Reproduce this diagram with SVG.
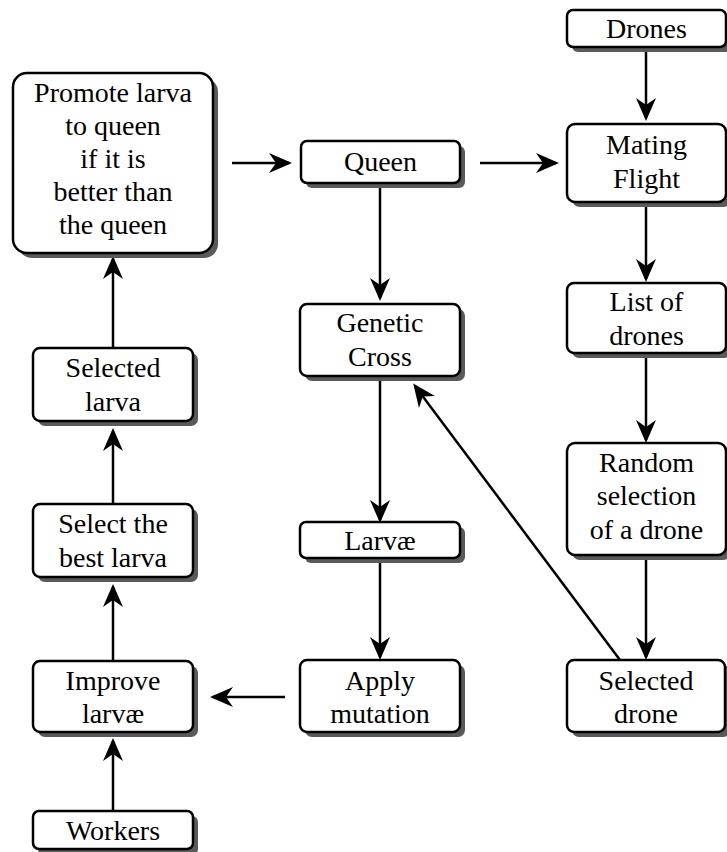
<svg xmlns="http://www.w3.org/2000/svg" width="727" height="852" viewBox="0 0 727 852">
<style>
.sh{fill:#5a5a5a;stroke:none}
.bx{fill:#fff;stroke:#000;stroke-width:2.5}
.t text{font-size:28px;fill:#000;text-anchor:middle}
.c{stroke:#000;stroke-width:2.5;fill:none;marker-end:url(#ah)}
</style>
<defs>
<marker id="ah" markerUnits="userSpaceOnUse" viewBox="-25 -12 27 24" markerWidth="27" markerHeight="24" refX="-3" refY="0" orient="auto">
<path d="M0,0 L-23,-10 L-16,0 L-23,10 Z" fill="#000"/>
</marker>
</defs>
<rect width="727" height="852" fill="#fff"/>
<g id="connectors">
<line class="c" x1="113" y1="348" x2="113" y2="259"/>
<line class="c" x1="113" y1="504" x2="113" y2="431"/>
<line class="c" x1="113" y1="661" x2="113" y2="587"/>
<line class="c" x1="113" y1="811" x2="113" y2="741"/>
<line class="c" x1="232" y1="163" x2="289" y2="163"/>
<line class="c" x1="480" y1="163" x2="556" y2="163"/>
<line class="c" x1="646" y1="47" x2="646" y2="118"/>
<line class="c" x1="380" y1="183" x2="380" y2="298"/>
<line class="c" x1="380" y1="376" x2="380" y2="520"/>
<line class="c" x1="380" y1="558" x2="380" y2="657"/>
<line class="c" x1="285" y1="697" x2="213" y2="697"/>
<line class="c" x1="646" y1="202" x2="646" y2="279"/>
<line class="c" x1="646" y1="353" x2="646" y2="440"/>
<line class="c" x1="646" y1="555" x2="646" y2="657"/>
<line class="c" x1="620" y1="660" x2="415" y2="386"/>
</g>
<g class="t" font-family="'Liberation Serif', 'Times New Roman', 'DejaVu Serif', serif">
<g id="promote">
<rect class="sh" x="18" y="78" width="200" height="180" rx="14"/>
<rect class="bx" x="13" y="73" width="200" height="180" rx="14"/>
<text x="113" y="102">Promote larva</text>
<text x="113" y="135">to queen</text>
<text x="113" y="168">if it is</text>
<text x="113" y="201">better than</text>
<text x="113" y="234">the queen</text>
</g>
<g id="queen">
<rect class="sh" x="306" y="146" width="159" height="42" rx="6"/>
<rect class="bx" x="301" y="141" width="159" height="42" rx="6"/>
<text x="380.5" y="171">Queen</text>
</g>
<g id="drones">
<rect class="sh" x="572" y="15" width="159" height="37" rx="6"/>
<rect class="bx" x="567" y="10" width="159" height="37" rx="6"/>
<text x="646.5" y="38">Drones</text>
</g>
<g id="mating">
<rect class="sh" x="572" y="129" width="159" height="78" rx="8"/>
<rect class="bx" x="567" y="124" width="159" height="78" rx="8"/>
<text x="646.5" y="154">Mating</text>
<text x="646.5" y="188">Flight</text>
</g>
<g id="genetic">
<rect class="sh" x="305" y="309" width="160" height="72" rx="7"/>
<rect class="bx" x="300" y="304" width="160" height="72" rx="7"/>
<text x="380" y="332">Genetic</text>
<text x="380" y="366">Cross</text>
</g>
<g id="list">
<rect class="sh" x="572" y="288" width="159" height="70" rx="7"/>
<rect class="bx" x="567" y="283" width="159" height="70" rx="7"/>
<text x="646.5" y="311">List of</text>
<text x="646.5" y="345">drones</text>
</g>
<g id="selected-larva">
<rect class="sh" x="38" y="353" width="160" height="73" rx="7"/>
<rect class="bx" x="33" y="348" width="160" height="73" rx="7"/>
<text x="113" y="377">Selected</text>
<text x="113" y="411">larva</text>
</g>
<g id="random">
<rect class="sh" x="572" y="448" width="159" height="112" rx="8"/>
<rect class="bx" x="567" y="443" width="159" height="112" rx="8"/>
<text x="646.5" y="472">Random</text>
<text x="646.5" y="505">selection</text>
<text x="646.5" y="539">of a drone</text>
</g>
<g id="select-best">
<rect class="sh" x="38" y="509" width="160" height="73" rx="7"/>
<rect class="bx" x="33" y="504" width="160" height="73" rx="7"/>
<text x="113" y="533">Select the</text>
<text x="113" y="567">best larva</text>
</g>
<g id="larvae">
<rect class="sh" x="305" y="527" width="160" height="36" rx="6"/>
<rect class="bx" x="300" y="522" width="160" height="36" rx="6"/>
<text x="380" y="550">Larvæ</text>
</g>
<g id="improve">
<rect class="sh" x="38" y="666" width="160" height="71" rx="7"/>
<rect class="bx" x="33" y="661" width="160" height="71" rx="7"/>
<text x="113" y="690">Improve</text>
<text x="113" y="723">larvæ</text>
</g>
<g id="apply">
<rect class="sh" x="305" y="665" width="160" height="72" rx="7"/>
<rect class="bx" x="300" y="660" width="160" height="72" rx="7"/>
<text x="380" y="690">Apply</text>
<text x="380" y="723">mutation</text>
</g>
<g id="selected-drone">
<rect class="sh" x="572" y="665" width="158" height="72" rx="7"/>
<rect class="bx" x="567" y="660" width="158" height="72" rx="7"/>
<text x="646" y="690">Selected</text>
<text x="646" y="723">drone</text>
</g>
<g id="workers">
<rect class="sh" x="38" y="816" width="160" height="39" rx="6"/>
<rect class="bx" x="33" y="811" width="160" height="38" rx="6"/>
<text x="113" y="840">Workers</text>
</g>
</g>
</svg>
